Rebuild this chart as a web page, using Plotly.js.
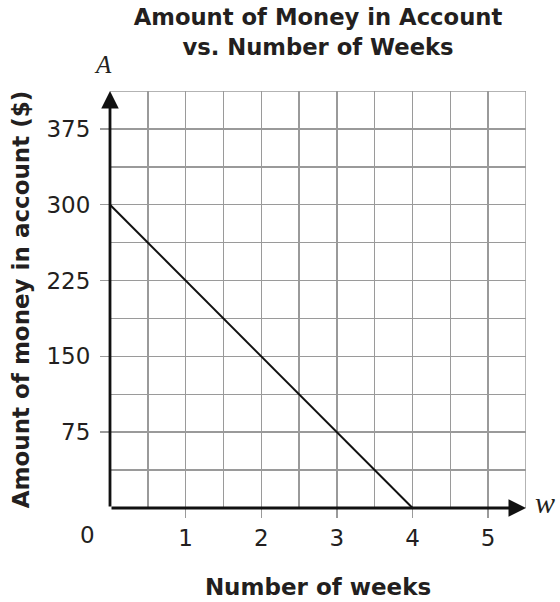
<!DOCTYPE html>
<html>
<head>
<meta charset="utf-8">
<script src="https://cdn.plot.ly/plotly-3.0.1.min.js"></script>
<style>html,body{margin:0;padding:0;background:#fff;}#chart{width:560px;height:602px;}</style>
</head>
<body>
<div id="chart"></div>
<script>
// Data
const weeks = [0, 4];
const money = [300, 0];
const xTicks = [1, 2, 3, 4, 5];
const xTickLabels = ['1', '2', '3', '4', '5'];
const yTicks = [75, 150, 225, 300, 375];
const yTickLabels = ['75', '150', '225', '300', '375'];
const xMax = 5.5;
const yMax = 412.5;

const titleText = 'Amount of Money in Account<br>vs. Number of Weeks';
const xTitle = 'Number of weeks';
const yTitle = 'Amount of money in account ($)';

const sans = 'DejaVu Sans, Verdana, sans-serif';
const serif = 'Liberation Serif, Times New Roman, serif';
const gridColor = '#9a9a9a';
const textColor = '#231f20';

const trace = {
  x: weeks, y: money, type: 'scatter', mode: 'lines',
  line: {color: '#111', width: 2}, hoverinfo: 'skip', showlegend: false
};

const layout = {
  width: 560, height: 602,
  margin: {l: 110, r: 34, t: 91, b: 94},
  paper_bgcolor: '#fff', plot_bgcolor: '#fff',
  title: {
    text: titleText, x: 0.5, xref: 'paper', xanchor: 'center',
    y: 1 - 25 / 602, yref: 'container', yanchor: 'bottom',
    font: {family: sans, size: 22.7, color: textColor, weight: 'bold'}
  },
  xaxis: {
    range: [0, xMax], fixedrange: true,
    tickmode: 'array', tickvals: xTicks, ticktext: xTickLabels,
    ticks: 'outside', ticklen: 9, tickwidth: 1.5, tickcolor: gridColor,
    ticklabelstandoff: 0,
    tickfont: {family: sans, size: 23, color: textColor},
    showgrid: true, gridcolor: gridColor, gridwidth: 1.5,
    minor: {tickmode: 'linear', tick0: 0, dtick: 0.5, showgrid: true, gridcolor: gridColor, gridwidth: 1.5, ticks: ''},
    zeroline: false, showline: false,
    title: {text: xTitle, standoff: 29, font: {family: sans, size: 23, color: textColor, weight: 'bold'}}
  },
  yaxis: {
    range: [0, yMax], fixedrange: true,
    tickmode: 'array', tickvals: yTicks, ticktext: yTickLabels,
    ticks: 'outside', ticklen: 9, tickwidth: 1.5, tickcolor: gridColor,
    ticklabelstandoff: 5,
    tickfont: {family: sans, size: 23, color: textColor},
    showgrid: true, gridcolor: gridColor, gridwidth: 1.5,
    minor: {tickmode: 'linear', tick0: 0, dtick: 37.5, showgrid: true, gridcolor: gridColor, gridwidth: 1.5, ticks: ''},
    zeroline: false, showline: false,
    title: {text: yTitle, standoff: 10, font: {family: sans, size: 23, color: textColor, weight: 'bold'}}
  },
  shapes: [
    {type: 'line', xref: 'x', yref: 'y', x0: xMax, x1: xMax, y0: 0, y1: yMax, line: {color: gridColor, width: 1.5}, layer: 'below'},
    {type: 'line', xref: 'x', yref: 'y', x0: 0, x1: xMax, y0: yMax, y1: yMax, line: {color: gridColor, width: 1.5}, layer: 'below'}
  ],
  annotations: [
    {xref: 'x', yref: 'y', x: xMax, y: 0, axref: 'x', ayref: 'y', ax: 0, ay: 0,
     showarrow: true, arrowhead: 2, arrowsize: 1.25, arrowwidth: 2.8, arrowcolor: '#111', standoff: 0, text: ''},
    {xref: 'x', yref: 'y', x: 0, y: yMax, axref: 'x', ayref: 'y', ax: 0, ay: 0,
     showarrow: true, arrowhead: 2, arrowsize: 1.25, arrowwidth: 2.8, arrowcolor: '#111', standoff: 0, text: ''},
    {xref: 'x', yref: 'y', x: 0, y: 0, xshift: -23, yshift: -27, showarrow: false, text: '0',
     font: {family: sans, size: 23, color: textColor}},
    {xref: 'x', yref: 'y', x: 0, y: yMax, xshift: -7, yshift: 27, showarrow: false, text: '<i>A</i>',
     font: {family: serif, size: 25, color: textColor}},
    {xref: 'x', yref: 'y', x: xMax, y: 0, xshift: 19, yshift: 6, showarrow: false, text: '<i>w</i>',
     font: {family: serif, size: 30, color: textColor}}
  ]
};

Plotly.newPlot('chart', [trace], layout, {displayModeBar: false, staticPlot: true});
</script>
</body>
</html>
